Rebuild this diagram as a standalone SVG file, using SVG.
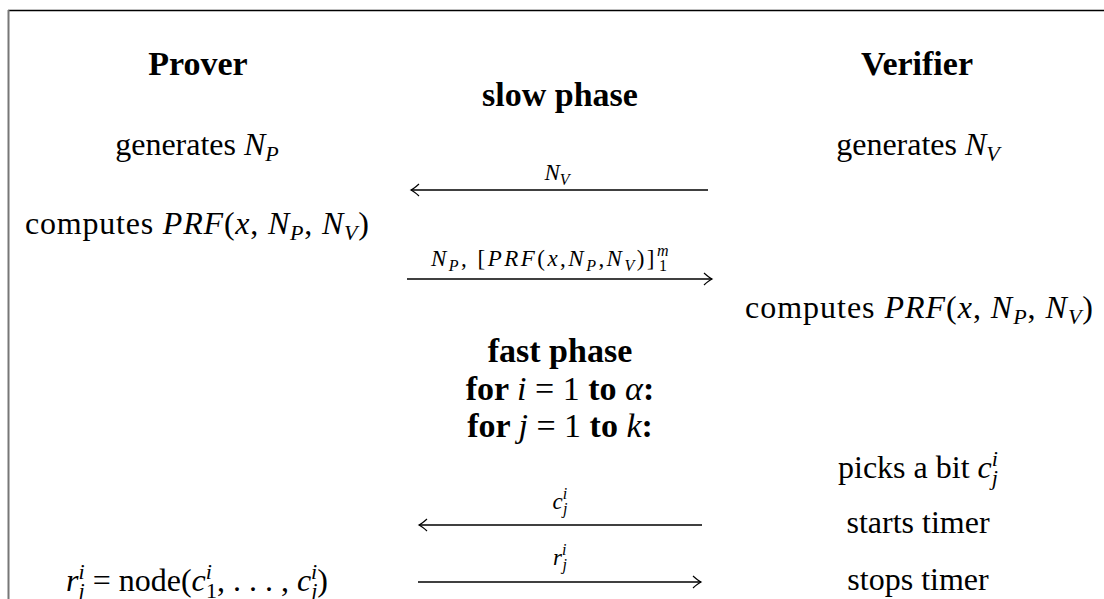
<svg xmlns="http://www.w3.org/2000/svg" width="1104" height="599" viewBox="0 0 1104 599">
<style>
text{font-family:"Liberation Serif","Times New Roman",serif;font-size:32px;fill:#000}
.b{font-weight:bold;font-size:34px}
.i{font-style:italic}
.s{font-size:22px}
.ss{font-size:16px}
.lbl{font-size:23px}
.c{text-anchor:middle}
.ln{stroke:#000;stroke-width:1.3;fill:none}
</style>
<defs>
<marker id="ah" viewBox="-10 -7 12 14" refX="0" refY="0" markerWidth="12" markerHeight="14" markerUnits="userSpaceOnUse" orient="auto">
<path d="M-8,-6 Q-3,-1.5 0,0 Q-3,1.5 -8,6" stroke="#000" stroke-width="1.2" fill="none"/>
</marker>
</defs>
<rect width="1104" height="599" fill="#fff"/>
<g id="frame">
<line x1="8" y1="10.5" x2="1104" y2="10.5" stroke="#000" stroke-width="1.5"/>
<line x1="8.5" y1="10" x2="8.5" y2="599" stroke="#777" stroke-width="2"/>
</g>
<g id="prover">
<text class="b c" x="198" y="75">Prover</text>
<text class="c" x="197" y="155">generates <tspan class="i">N</tspan><tspan class="i s" dy="6">P</tspan></text>
<text x="25" y="234" textLength="344" lengthAdjust="spacing">computes <tspan class="i">PRF</tspan>(<tspan class="i">x</tspan>, <tspan class="i">N</tspan><tspan class="i s" dy="6">P</tspan><tspan dy="-6">, </tspan><tspan class="i">N</tspan><tspan class="i s" dy="6">V</tspan><tspan dy="-6">)</tspan></text>
<text class="c" x="197" y="591"><tspan class="i">r</tspan><tspan class="i s" dy="-12">i</tspan><tspan class="i s" dx="-6" dy="19">j</tspan><tspan dy="-7"> = node(</tspan><tspan class="i">c</tspan><tspan class="i s" dy="-12">i</tspan><tspan class="s" dx="-6" dy="19">1</tspan><tspan dy="-7">, . . . , </tspan><tspan class="i">c</tspan><tspan class="i s" dy="-12">i</tspan><tspan class="i s" dx="-6" dy="19">j</tspan><tspan dy="-7">)</tspan></text>
</g>
<g id="phases">
<text class="b c" x="560" y="106">slow phase</text>
<text class="b c" x="560" y="362">fast phase</text>
<text class="b c" x="560" y="400">for <tspan class="i" font-weight="normal">i</tspan><tspan font-weight="normal"> = 1 </tspan>to <tspan class="i" font-weight="normal">α</tspan>:</text>
<text class="b c" x="560" y="437">for <tspan class="i" font-weight="normal">j</tspan><tspan font-weight="normal"> = 1 </tspan>to <tspan class="i" font-weight="normal">k</tspan>:</text>
</g>
<g id="verifier">
<text class="b c" x="917" y="75">Verifier</text>
<text class="c" x="918" y="155">generates <tspan class="i">N</tspan><tspan class="i s" dy="6">V</tspan></text>
<text x="745" y="318" textLength="348" lengthAdjust="spacing">computes <tspan class="i">PRF</tspan>(<tspan class="i">x</tspan>, <tspan class="i">N</tspan><tspan class="i s" dy="6">P</tspan><tspan dy="-6">, </tspan><tspan class="i">N</tspan><tspan class="i s" dy="6">V</tspan><tspan dy="-6">)</tspan></text>
<text class="c" x="918" y="478">picks a bit <tspan class="i">c</tspan><tspan class="i s" dy="-12">i</tspan><tspan class="i s" dx="-6" dy="19">j</tspan></text>
<text class="c" x="918" y="533">starts timer</text>
<text class="c" x="918" y="590">stops timer</text>
</g>
<g id="connectors">
<line class="ln" x1="708" y1="190" x2="411" y2="190" marker-end="url(#ah)"/>
<line class="ln" x1="407" y1="279" x2="712" y2="279" marker-end="url(#ah)"/>
<line class="ln" x1="702" y1="525" x2="419" y2="525" marker-end="url(#ah)"/>
<line class="ln" x1="418" y1="582" x2="701" y2="582" marker-end="url(#ah)"/>
<text class="lbl c i" x="557" y="180">N<tspan class="ss" dy="5">V</tspan></text>
<text class="lbl" x="431" y="266" textLength="240" lengthAdjust="spacing"><tspan class="i">N</tspan><tspan class="i ss" dy="5">P</tspan><tspan dy="-5">,  [</tspan><tspan class="i">PRF</tspan>(<tspan class="i">x</tspan>,<tspan class="i">N</tspan><tspan class="i ss" dy="5">P</tspan><tspan dy="-5">,</tspan><tspan class="i">N</tspan><tspan class="i ss" dy="5">V</tspan><tspan dy="-5">)]</tspan><tspan class="i ss" dy="-10">m</tspan><tspan class="ss" dx="-12" dy="15">1</tspan></text>
<text class="lbl c i" x="560" y="509">c<tspan class="ss" dy="-10">i</tspan><tspan class="ss" dx="-4" dy="15">j</tspan></text>
<text class="lbl c i" x="560" y="565">r<tspan class="ss" dy="-10">i</tspan><tspan class="ss" dx="-4" dy="15">j</tspan></text>
</g>
</svg>
